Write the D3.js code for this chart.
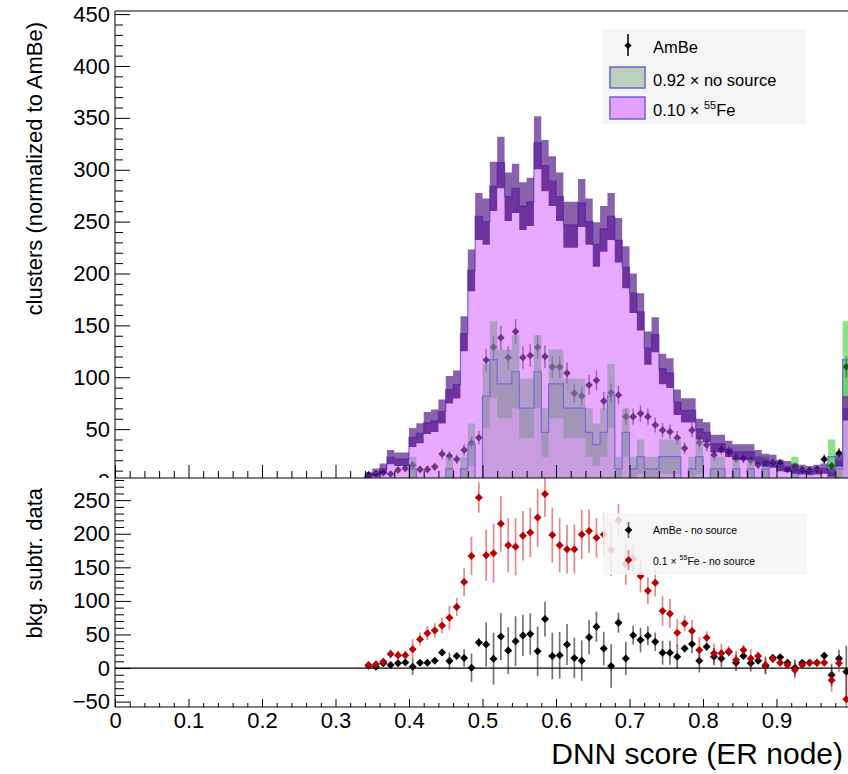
<!DOCTYPE html>
<html><head><meta charset="utf-8">
<script src="https://cdn.jsdelivr.net/npm/d3@7"></script>
<style>
body{margin:0;background:#fff}
svg{display:block}
text{font-family:"Liberation Sans",Arial,Helvetica,sans-serif}
</style>
</head><body>
<svg id="c" width="848" height="774"></svg>
<script>
// ---------------- DATA ----------------
const binEdges = [0.34,0.35,0.36,0.37,0.38,0.39,0.40,0.41,0.42,0.43,0.44,0.45,0.46,0.47,0.48,0.49,0.50,0.51,0.52,0.53,0.54,0.55,0.56,0.57,0.58,0.59,0.60,0.61,0.62,0.63,0.64,0.65,0.66,0.67,0.68,0.69,0.70,0.71,0.72,0.73,0.74,0.75,0.76,0.77,0.78,0.79,0.80,0.81,0.82,0.83,0.84,0.85,0.86,0.87,0.88,0.89,0.90,0.91,0.92,0.93,0.94,0.95,0.96,0.97,0.98,0.99,1.00];

// 0.10 x 55Fe (top panel histogram) and its error band
const feVal = [5,8,12,23,21,21,42,46,56,58, 67,88,93,142,203,255,250,284,307,274, 282,265,269,326,304,289,274,247,247,268, 250,228,243,255,232,206,181,163,128,141, 108,104,76,68,68,50,47,36,36,31, 28,28,28,23,20,19,15,14,12,11, 10,11,12,8,20,70];
const feErr = [3.2,4,4.9,6.8,6.5,6.5,9.2,9.6,10.6,10.8, 11.6,13.3,13.6,16.9,20.1,22.6,22.4,23.8,24.8,23.4, 23.7,23,23.2,25.5,24.7,24,23.4,22.2,22.2,23.1, 22.4,21.4,22,22.6,21.5,20.3,19,18,16,16.8, 14.7,14.4,12.3,11.7,11.7,10,9.7,8.5,8.5,7.9, 7.5,7.5,7.5,6.8,6.3,6.2,5.5,5.3,4.9,4.7, 4.5,4.7,4.9,4,6.3,11.8];

// 0.92 x no source
const nsVal = [0,0,0,0,0,0,11.7,0,0,0, 0,11.7,0,11.7,35.1,0,81.9,117,93.6,93.6, 105.3,70.2,70.2,105.3,46.8,93.6,93.6,70.2,70.2,70.2, 46.8,35.1,46.8,81.9,11.7,46.8,11.7,23.4,11.7,11.7, 23.4,23.4,23.4,0,11.7,23.4,0,11.7,11.7,0, 11.7,0,11.7,0,11.7,0,0,0,11.7,0, 0,0,0,23.4,11.7,117];
const nsErr = [0,0,0,0,0,0,11.7,0,0,0, 0,11.7,0,11.7,20.3,0,31,37,33.1,33.1, 35.1,28.7,28.7,35.1,23.4,33.1,33.1,28.7,28.7,28.7, 23.4,20.3,23.4,31,11.7,23.4,11.7,16.5,11.7,11.7, 16.5,16.5,16.5,0,11.7,16.5,0,11.7,11.7,0, 11.7,0,11.7,0,11.7,0,0,0,11.7,0, 0,0,0,16.5,11.7,37];

// AmBe data points
const ambeVal = [6,6.7,8,6.7,10.6,12.2,15.4,11.2,11.2,13.8, 26,24,20.9,29.9,36.9,41.7,116.6,129,138,119, 144,119,121,129,120,110,110,104,84.5,82, 92.5,97,77,85,82.9,62,62,65,62,54, 49,47.5,41.7,31.5,49,37,34.7,25,30.5,28, 21.8,21.8,20,15.4,17.6,17.6,17,11.2,13.8,10.6, 10,11.2,21,14.5,26.7,110];
const ambeErr = [2.4,2.6,2.8,2.6,3.3,3.5,3.9,3.3,3.3,3.7, 5.1,4.9,4.6,5.5,6.1,6.5,10.8,11.4,11.7,10.9, 12,10.9,11,11.4,11,10.5,10.5,10.2,9.2,9.1, 9.6,9.8,8.8,9.2,9.1,7.9,7.9,8.1,7.9,7.3, 7,6.9,6.5,5.6,7,6.1,5.9,5,5.5,5.3, 4.7,4.7,4.5,3.9,4.2,4.2,4.1,3.3,3.7,3.3, 3.2,3.3,4.6,3.8,5.2,10.5];

// bottom panel: AmBe - no source
const subAmbe = [3.5,2,7,4.5,7,8.4,2,7.9,8,11, 23,10.4,18,15,0.5,38,35,14,47,26, 40,48.6,50.6,25,73,18,19,35,15,11, 46,61.5,29,3,67.5,14.4,49,41.7,48,39, 22.8,22.8,16.9,29,35.7,11,31.8,17,14.4,24, 8,17.9,7,11,3,15.4,16,8,0.5,8, 8,8,18.4,-10.4,14.4,-5.4];
const subAmbeErr = [2.4,2.6,2.8,2.6,3.3,3.5,12.3,3.3,3.3,3.7, 5.1,12.7,4.6,12.9,21.2,6.5,32.8,38.7,35.1,34.9, 37.1,30.7,30.7,36.9,25.9,34.7,34.7,30.5,30.1,30.1, 25.3,22.5,25,32.3,14.8,24.7,14.1,18.4,14.1,13.8, 17.9,17.9,17.7,5.6,13.6,17.6,5.9,12.7,12.9,5.3, 12.6,4.7,12.5,3.9,12.4,4.2,4.1,3.3,12.3,3.3, 3.2,3.3,4.6,16.9,12.8,38.5];

// bottom panel: 0.1 x 55Fe - no source
const subFe = [4.5,5.5,9.4,21,19,19,28,43,52,56, 63.5,75,91,128,167,254,168,171,215,183, 180.5,197,202,224,259,198,183,177,177,199, 204,194,199,175.6,220,155,163,137,115,127, 85,81,52.6,66.5,55,26.8,45,22,22,25, 12,26.8,14.4,17.9,4.5,13.4,8,4.5,-3,4.5, 8,8,8,-18,7,-46.6];
const subFeErr = [3.2,4,4.9,6.8,6.5,6.5,14.9,9.6,10.6,10.8, 11.6,17.7,13.6,20.6,28.6,22.6,38.2,44,41.4,40.5, 42.4,36.8,36.9,43.4,34,40.9,40.5,36.3,36.3,36.8, 32.4,29.5,32.1,38.4,24.5,31,22.3,24.4,19.8,20.5, 22.1,21.9,20.6,11.7,16.5,19.3,9.7,14.5,14.5,7.9, 13.9,7.5,13.9,6.8,13.3,6.2,5.5,5.3,12.7,4.7, 4.5,4.7,4.9,17,13.3,38.8];

// ticks
const xMajor = [0,0.1,0.2,0.3,0.4,0.5,0.6,0.7,0.8,0.9,1.0];
const xLabels = ["0","0.1","0.2","0.3","0.4","0.5","0.6","0.7","0.8","0.9"];
const topYMajor = [0,50,100,150,200,250,300,350,400,450];
const botYMajor = [-50,0,50,100,150,200,250];

// ---------------- LAYOUT ----------------
const svg = d3.select("#c");
const FONT = '"Liberation Sans",Arial,Helvetica,sans-serif';
const x = d3.scaleLinear().domain([0,1]).range([115,850]);
const yT = d3.scaleLinear().domain([0,453]).range([481,11]);
const yB = d3.scaleLinear().domain([-58,283]).range([707,478]);

const nb = feVal.length;
const idx = d3.range(nb);
const centers = idx.map(i => (binEdges[i]+binEdges[i+1])/2);

function stepData(lo, hi){
  const d = idx.map(i => ({e: binEdges[i], lo: lo(i), hi: hi(i)}));
  d.push({e: binEdges[nb], lo: lo(nb-1), hi: hi(nb-1)});
  return d;
}
function areaT(data){
  return d3.area().curve(d3.curveStepAfter).x(d=>x(d.e)).y0(d=>yT(d.lo)).y1(d=>yT(d.hi))(data);
}
function lineT(vals){
  const d = [{e: binEdges[0], v: 0}].concat(idx.map(i=>({e: binEdges[i], v: vals[i]})));
  d.push({e: binEdges[nb], v: vals[nb-1]});
  return d3.line().curve(d3.curveStepAfter).x(d=>x(d.e)).y(d=>yT(d.v))(d);
}
function diamond(cx, cy, r){ return `M${cx},${cy-r}L${cx+r},${cy}L${cx},${cy+r}L${cx-r},${cy}Z`; }

const defs = svg.append("defs");
defs.append("clipPath").attr("id","clipT").append("rect").attr("x",115).attr("y",11).attr("width",740).attr("height",467);
defs.append("clipPath").attr("id","clipB").append("rect").attr("x",115).attr("y",478).attr("width",740).attr("height",229);

// ---------------- TOP PANEL ----------------
const gT = svg.append("g").attr("clip-path","url(#clipT)");
// no-source fill
gT.append("path").attr("d", areaT(stepData(i=>0, i=>nsVal[i]))).attr("fill","rgb(190,225,190)");
// AmBe points (drawn below the translucent histograms)
const gPts = gT.append("g");
idx.forEach(i=>{
  const cx = x(centers[i]);
  gPts.append("line").attr("x1",cx).attr("x2",cx).attr("y1",yT(ambeVal[i]-ambeErr[i])).attr("y2",yT(ambeVal[i]+ambeErr[i]))
    .attr("stroke","#000").attr("stroke-opacity",0.6).attr("stroke-width",1.5);
  gPts.append("path").attr("d", diamond(cx, yT(ambeVal[i]), 3.8)).attr("fill","#000");
});
// no-source error band
gT.append("path").attr("d", areaT(stepData(i=>Math.max(0,nsVal[i]-nsErr[i]), i=>nsVal[i]+nsErr[i])))
  .attr("fill","rgb(20,200,20)").attr("fill-opacity",0.5);
// 55Fe fill
gT.append("path").attr("d", areaT(stepData(i=>0, i=>feVal[i]))).attr("fill","rgb(211,94,255)").attr("fill-opacity",0.53);
// outlines
gT.append("path").attr("d", lineT(nsVal)).attr("fill","none").attr("stroke","rgb(118,104,228)").attr("stroke-width",1.2);
gT.append("path").attr("d", lineT(feVal)).attr("fill","none").attr("stroke","rgb(118,104,228)").attr("stroke-width",1.2);
// 55Fe error band
gT.append("path").attr("d", areaT(stepData(i=>Math.max(0,feVal[i]-feErr[i]), i=>feVal[i])))
  .attr("fill","rgb(60,0,120)").attr("fill-opacity",0.7);
gT.append("path").attr("d", areaT(stepData(i=>feVal[i], i=>feVal[i]+feErr[i])))
  .attr("fill","rgb(80,20,130)").attr("fill-opacity",0.67);

// top y axis
function styleAxis(g, size){
  g.attr("font-family", FONT).attr("font-size", size);
  g.selectAll("text").attr("fill","#000");
  g.selectAll("line").attr("stroke","#000");
}
const gTY = svg.append("g").attr("transform","translate(115,0)")
  .call(d3.axisLeft(yT).tickValues(topYMajor).tickSize(-15).tickSizeOuter(0).tickPadding(5).tickFormat(d3.format("d")));
gTY.select(".domain").remove();
styleAxis(gTY, 22);
const topMinor = d3.range(0, 454, 10).filter(v => v % 50 !== 0);
const gTYm = svg.append("g").attr("transform","translate(115,0)")
  .call(d3.axisLeft(yT).tickValues(topMinor).tickSize(-8).tickSizeOuter(0).tickFormat(""));
gTYm.select(".domain").remove();
styleAxis(gTYm, 10);
// top frame
svg.append("line").attr("x1",115).attr("x2",848).attr("y1",11).attr("y2",11).attr("stroke","#000");
svg.append("line").attr("x1",115).attr("x2",115).attr("y1",11).attr("y2",481).attr("stroke","#000");

// top legend
const lgT = svg.append("g");
lgT.append("rect").attr("x",602).attr("y",29).attr("width",204).attr("height",95).attr("fill","#f5f5f5");
lgT.append("line").attr("x1",628).attr("x2",628).attr("y1",34).attr("y2",56).attr("stroke","#000").attr("stroke-width",1.5);
lgT.append("path").attr("d",diamond(628,45.5,3.6)).attr("fill","#000");
lgT.append("text").attr("x",653).attr("y",52.5).attr("font-size",16.5).text("AmBe");
lgT.append("rect").attr("x",610).attr("y",67).attr("width",35).attr("height",21).attr("fill","rgb(187,209,187)").attr("stroke","rgb(108,96,222)").attr("stroke-width",1.5);
lgT.append("text").attr("x",653).attr("y",85.5).attr("font-size",16.5).text("0.92 \u00d7 no source");
lgT.append("rect").attr("x",610).attr("y",97).attr("width",35).attr("height",22).attr("fill","rgb(229,160,255)").attr("stroke","rgb(108,96,222)").attr("stroke-width",1.5);
const tFe = lgT.append("text").attr("x",653).attr("y",115.5).attr("font-size",16.5);
tFe.append("tspan").text("0.10 \u00d7 ");
tFe.append("tspan").attr("font-size",11).attr("dy",-7).text("55");
tFe.append("tspan").attr("dy",7).text("Fe");

// ---------------- BOTTOM PANEL ----------------
svg.append("rect").attr("x",0).attr("y",478).attr("width",848).attr("height",296).attr("fill","#fff");
const gB = svg.append("g").attr("clip-path","url(#clipB)");
gB.append("line").attr("x1",115).attr("x2",850).attr("y1",yB(0)).attr("y2",yB(0)).attr("stroke","#000").attr("stroke-width",1.2);
function drawPts(g, vals, errs, color, barColor, barOp){
  idx.forEach(i=>{
    const cx = x(centers[i]);
    g.append("line").attr("x1",cx).attr("x2",cx).attr("y1",yB(vals[i]-errs[i])).attr("y2",yB(vals[i]+errs[i]))
      .attr("stroke",barColor).attr("stroke-opacity",barOp).attr("stroke-width",1.7);
    g.append("path").attr("d",diamond(cx, yB(vals[i]), 4)).attr("fill",color);
  });
}
drawPts(gB.append("g"), subAmbe, subAmbeErr, "#000", "#000", 0.55);
drawPts(gB.append("g"), subFe, subFeErr, "rgb(185,0,0)", "rgb(200,20,20)", 0.5);

// bottom legend
const lgB = svg.append("g");
lgB.append("rect").attr("x",603).attr("y",513).attr("width",204).attr("height",62).attr("fill","#f5f5f5").attr("fill-opacity",0.85);
lgB.append("line").attr("x1",628.5).attr("x2",628.5).attr("y1",522).attr("y2",538).attr("stroke","#000").attr("stroke-opacity",0.6).attr("stroke-width",1.6);
lgB.append("path").attr("d",diamond(628.5,530,3.8)).attr("fill","#000");
lgB.append("text").attr("x",653).attr("y",534).attr("font-size",10.5).text("AmBe - no source");
lgB.append("line").attr("x1",628.5).attr("x2",628.5).attr("y1",550).attr("y2",570).attr("stroke","rgb(200,20,20)").attr("stroke-opacity",0.5).attr("stroke-width",1.6);
lgB.append("path").attr("d",diamond(628.5,560,3.8)).attr("fill","rgb(185,0,0)");
const tB2 = lgB.append("text").attr("x",653).attr("y",564.5).attr("font-size",10.5);
tB2.append("tspan").text("0.1 \u00d7 ");
tB2.append("tspan").attr("font-size",7).attr("dy",-4.5).text("55");
tB2.append("tspan").attr("dy",4.5).text("Fe - no source");

// bottom axes
const gBY = svg.append("g").attr("transform","translate(115,0)")
  .call(d3.axisLeft(yB).tickValues(botYMajor).tickSize(-16).tickSizeOuter(0).tickPadding(5).tickFormat(d3.format("d")));
gBY.select(".domain").remove();
styleAxis(gBY, 22);
const botMinor = d3.range(-50, 284, 10).filter(v => v % 50 !== 0);
const gBYm = svg.append("g").attr("transform","translate(115,0)")
  .call(d3.axisLeft(yB).tickValues(botMinor).tickSize(-9).tickSizeOuter(0).tickFormat(""));
gBYm.select(".domain").remove();
styleAxis(gBYm, 10);

const gBX = svg.append("g").attr("transform","translate(0,707)")
  .call(d3.axisBottom(x).tickValues(xMajor).tickSize(-8).tickSizeOuter(0).tickPadding(5).tickFormat((d,i)=> xLabels[i] || ""));
gBX.select(".domain").remove();
styleAxis(gBX, 22);
const xMinor = d3.range(0, 1.001, 0.02).filter((v,i) => i % 5 !== 0);
const gBXm = svg.append("g").attr("transform","translate(0,707)")
  .call(d3.axisBottom(x).tickValues(xMinor).tickSize(-4).tickSizeOuter(0).tickFormat(""));
gBXm.select(".domain").remove();
styleAxis(gBXm, 10);

// top panel x ticks (upper side of pad boundary)
const gTX = svg.append("g").attr("transform","translate(0,478)")
  .call(d3.axisBottom(x).tickValues(xMajor).tickSize(-13).tickSizeOuter(0).tickFormat(""));
gTX.select(".domain").remove();
styleAxis(gTX, 10);
const gTXm = svg.append("g").attr("transform","translate(0,478)")
  .call(d3.axisBottom(x).tickValues(xMinor).tickSize(-7).tickSizeOuter(0).tickFormat(""));
gTXm.select(".domain").remove();
styleAxis(gTXm, 10);

// bottom frame
svg.append("line").attr("x1",115).attr("x2",848).attr("y1",478).attr("y2",478).attr("stroke","#000");
svg.append("line").attr("x1",115).attr("x2",848).attr("y1",707).attr("y2",707).attr("stroke","#000");
svg.append("line").attr("x1",115).attr("x2",115).attr("y1",478).attr("y2",707).attr("stroke","#000");

// titles
svg.append("text").attr("transform","translate(42,22) rotate(-90)").attr("text-anchor","end")
  .attr("font-size",22).text("clusters (normalized to AmBe)");
svg.append("text").attr("transform","translate(42,488) rotate(-90)").attr("text-anchor","end")
  .attr("font-size",22).text("bkg. subtr. data");
svg.append("text").attr("x",843).attr("y",764).attr("text-anchor","end").attr("font-size",30).text("DNN score (ER node)");
</script>
</body></html>
